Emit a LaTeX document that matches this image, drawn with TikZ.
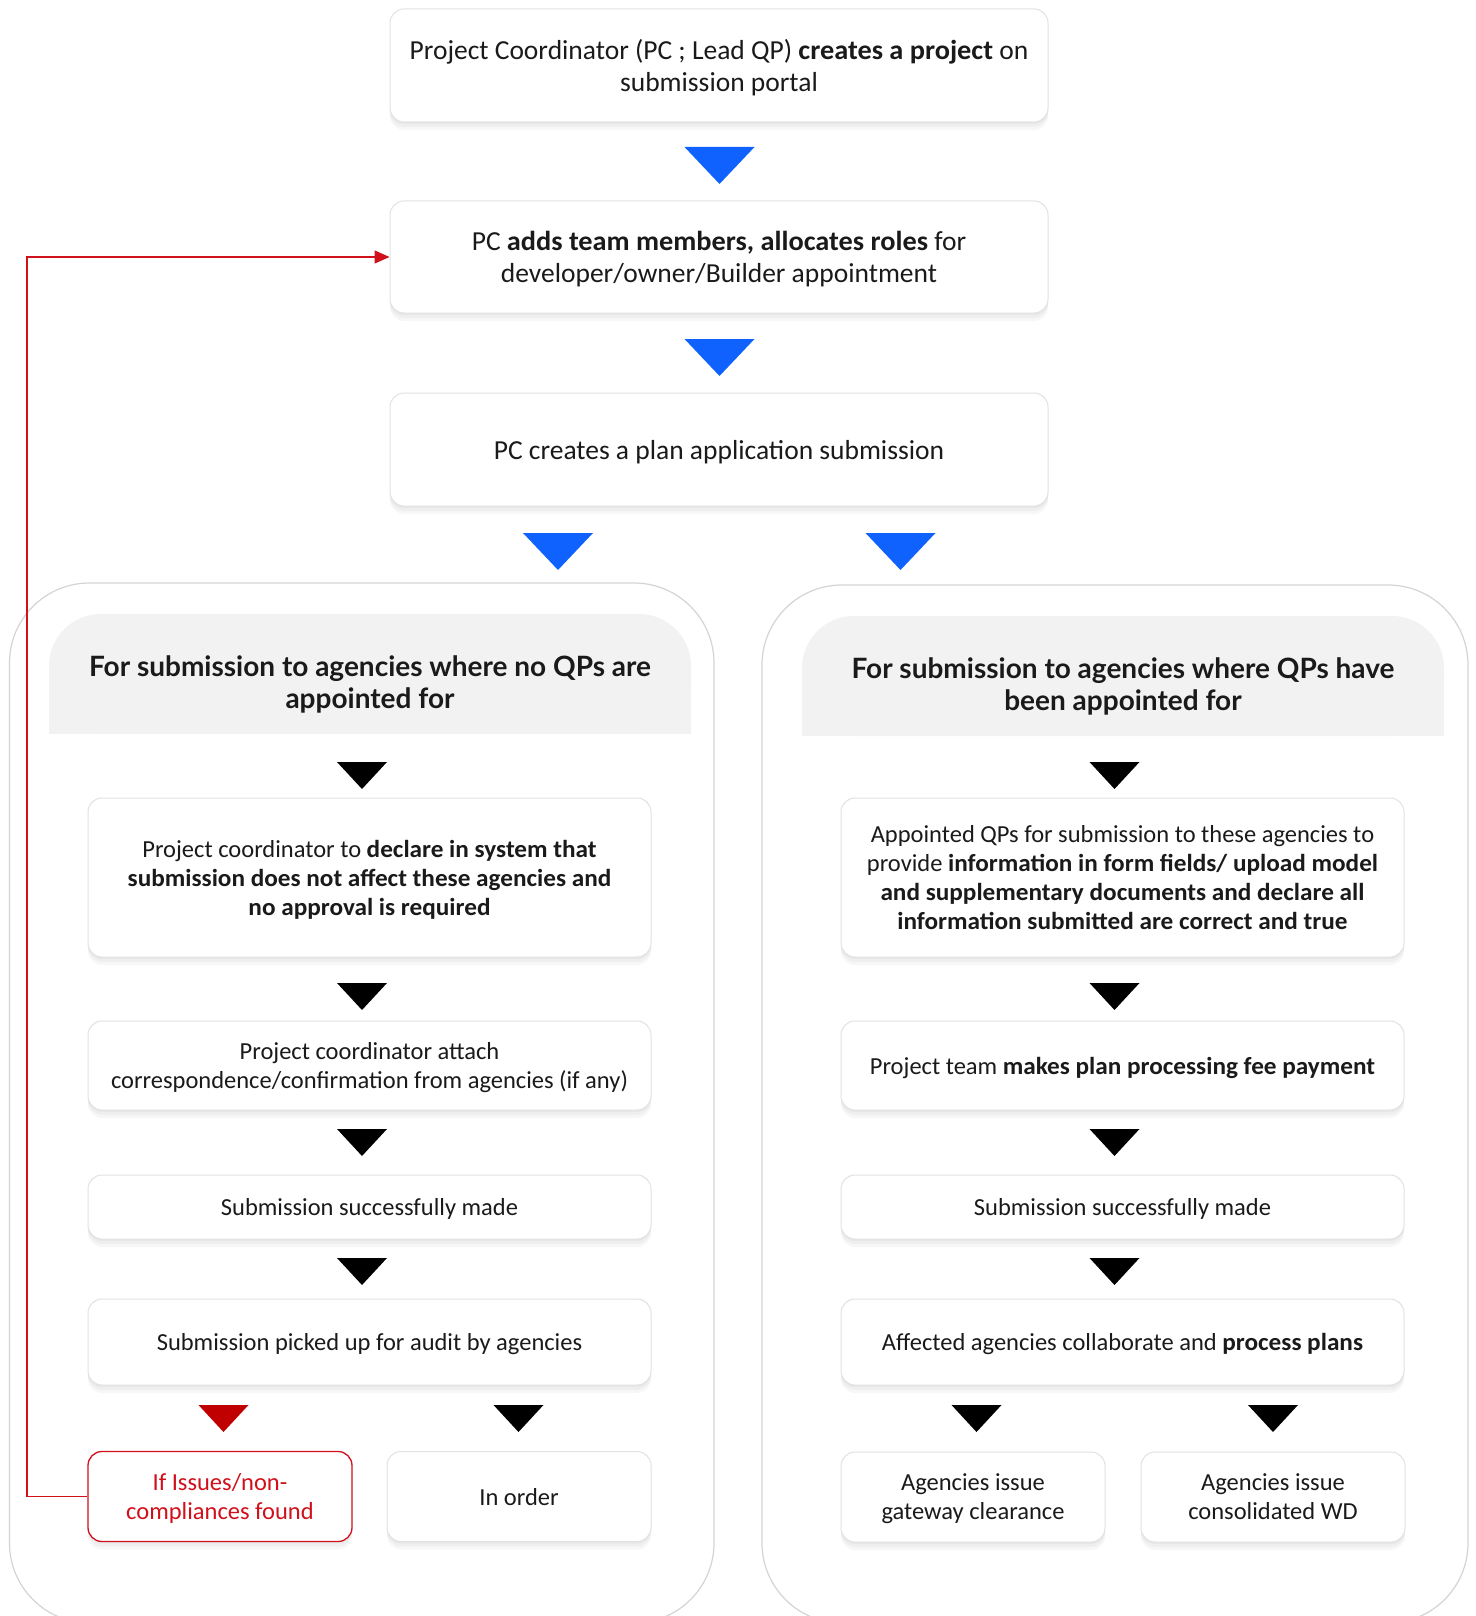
\documentclass[tikz,border=0pt]{standalone}
\usepackage{fontspec}
\setmainfont{Carlito}[BoldFeatures={FakeStretch=1.03}]
\newfontfamily\hdfont{Lato}
\usetikzlibrary{shadows,arrows.meta}
\definecolor{flowblue}{HTML}{0F62FE}
\definecolor{flowred}{HTML}{C00000}
\definecolor{redline}{HTML}{D0101A}
\definecolor{boxline}{HTML}{E2E2E2}
\definecolor{hdfill}{HTML}{F2F2F2}
\definecolor{contline}{HTML}{D4D4D4}
\definecolor{ink}{HTML}{1A1A1A}
\tikzset{
  softshadow/.style={
    general shadow={fill=black, opacity=0.03, shadow yshift=-2pt},
    general shadow={fill=black, opacity=0.03, shadow yshift=-5pt},
    general shadow={fill=black, opacity=0.03, shadow yshift=-8pt}},
  card/.style={draw=boxline, line width=1pt, fill=white, rounded corners=14pt,
    align=center, inner sep=0pt, text=ink, text depth=0pt, softshadow},
  topcard/.style={card, font=\fontsize{27.5}{32}\selectfont},
  incard/.style={card, font=\fontsize{24.5}{29}\selectfont},
  redcard/.style={incard, draw=redline, line width=1.3pt, text=redline},
  headtext/.style={font=\hdfont\bfseries\fontsize{28}{32}\selectfont, align=center,
    text=ink, inner sep=0pt, text depth=0pt},
  container/.style={draw=contline, line width=1.2pt, fill=white, rounded corners=80pt},
  pics/bigtri/.style={code={\fill[pic actions] (-35,0) -- (35,0) -- (0,37) -- cycle;}},
  pics/smalltri/.style={code={\fill[pic actions] (-25,0) -- (25,0) -- (0,27) -- cycle;}},
}
\begin{document}
\begin{tikzpicture}[x=1pt,y=-1pt]
\clip (0,0) rectangle (1475,1616);
\fill[white] (0,0) rectangle (1475,1616);

% containers
\draw[container] (9.5,583) rectangle (714,1623);
\draw[container] (762,585) rectangle (1468,1623);

% header backgrounds
\fill[hdfill, rounded corners=52pt] (49,614) rectangle (691,734);
\fill[hdfill] (49,680) rectangle (691,734);
\fill[hdfill, rounded corners=52pt] (802,616) rectangle (1444,736);
\fill[hdfill] (802,682) rectangle (1444,736);

\node[headtext] (hl) at (370,682) {For submission to agencies where no QPs are\\appointed for};
\node[headtext] (hr) at (1123,684) {For submission to agencies where QPs have\\been appointed for};

% top chain
\node[topcard, minimum width=658, minimum height=113] (n1) at (719,65.5)
  {Project Coordinator (PC ; Lead QP) \textbf{creates a project} on\\submission portal};
\node[topcard, minimum width=658, minimum height=112] (n2) at (719,257)
  {PC \textbf{adds team members, allocates roles} for\\developer/owner/Builder appointment};
\node[topcard, minimum width=658, minimum height=113] (n3) at (719,449.5)
  {PC creates a plan application submission};

\pic[fill=flowblue] at (719.5,147) {bigtri};
\pic[fill=flowblue] at (719.5,339) {bigtri};
\pic[fill=flowblue] at (558,533) {bigtri};
\pic[fill=flowblue] at (900.5,533) {bigtri};

% left column
\node[incard, minimum width=563, minimum height=159] (l1) at (369.5,877.5)
  {Project coordinator to \textbf{declare in system that}\\\textbf{submission does not affect these agencies and}\\\textbf{no approval is required}};
\node[incard, minimum width=563, minimum height=89] (l2) at (369.5,1065.5)
  {Project coordinator attach\\correspondence/confirmation from agencies (if any)};
\node[incard, minimum width=563, minimum height=64] (l3) at (369.5,1207)
  {Submission successfully made};
\node[incard, minimum width=563, minimum height=86] (l4) at (369.5,1342)
  {Submission picked up for audit by agencies};
\node[redcard, minimum width=264, minimum height=90] (red) at (220,1496.5)
  {If Issues/non-\\compliances found};
\node[incard, minimum width=264, minimum height=90] (ok) at (519,1496.5)
  {In order};

\pic[fill=black] at (362,762) {smalltri};
\pic[fill=black] at (362,983) {smalltri};
\pic[fill=black] at (362,1129) {smalltri};
\pic[fill=black] at (362,1258) {smalltri};
\pic[fill=flowred] at (223.5,1405) {smalltri};
\pic[fill=black] at (518.5,1405) {smalltri};

% right column
\node[incard, minimum width=563, minimum height=159] (r1) at (1122.5,877.5)
  {Appointed QPs for submission to these agencies to\\provide \textbf{information in form fields/ upload model}\\\textbf{and supplementary documents and declare all}\\\textbf{information submitted are correct and true}};
\node[incard, minimum width=563, minimum height=89] (r2) at (1122.5,1065.5)
  {Project team \textbf{makes plan processing fee payment}};
\node[incard, minimum width=563, minimum height=64] (r3) at (1122.5,1207)
  {Submission successfully made};
\node[incard, minimum width=563, minimum height=86] (r4) at (1122.5,1342)
  {Affected agencies collaborate and \textbf{process plans}};
\node[incard, minimum width=264, minimum height=90] (gw) at (973,1497)
  {Agencies issue\\gateway clearance};
\node[incard, minimum width=264, minimum height=90] (wd) at (1273,1497)
  {Agencies issue\\consolidated WD};

\pic[fill=black] at (1114.5,762) {smalltri};
\pic[fill=black] at (1114.5,983) {smalltri};
\pic[fill=black] at (1114.5,1129) {smalltri};
\pic[fill=black] at (1114.5,1258) {smalltri};
\pic[fill=black] at (976.5,1405) {smalltri};
\pic[fill=black] at (1273,1405) {smalltri};

% feedback loop
\coordinate (loop) at (27,1496.5);
\draw[redline, line width=1.3pt, -{Triangle[length=15pt,width=13pt]}]
  (red.west) -- (loop) |- (n2.west);
\end{tikzpicture}
\end{document}
